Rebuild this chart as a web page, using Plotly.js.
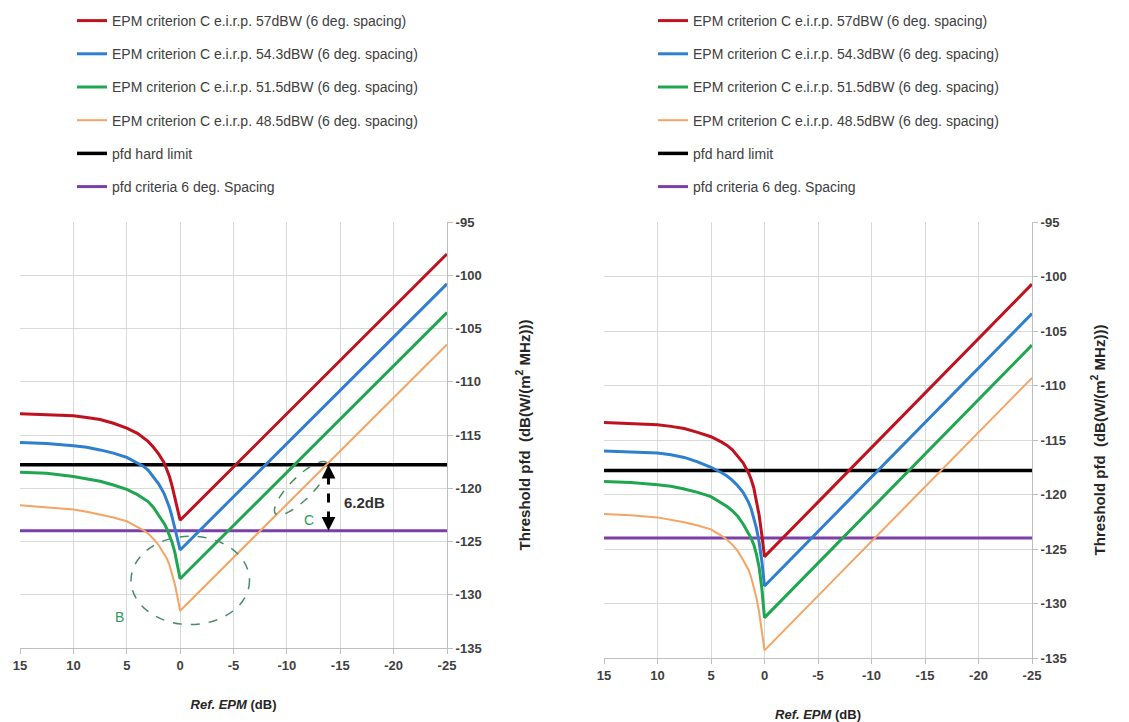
<!DOCTYPE html>
<html>
<head>
<meta charset="utf-8">
<script src="https://cdn.plot.ly/plotly-3.0.1.min.js"></script>
<style>
  html, body { margin: 0; padding: 0; background: #ffffff; }
  #chart { width: 1129px; height: 722px; }
</style>
</head>
<body>
<div id="chart"></div>
<script>
// Reference EPM (dB) sample points, shared by every threshold curve
const epm = [15, 12.5, 10, 8.75, 7.5, 6.25, 5, 4, 3.5, 3, 2.5, 2, 1.5, 1.25, 1, 0.75, 0.5, 0.25, 0, -5, -10, -15, -20, -25];

// Left panel: threshold pfd, dB(W/(m2 MHz))
const leftEirp57   = [-113.0, -113.1, -113.2, -113.35, -113.55, -113.9, -114.35, -114.85, -115.2, -115.6, -116.15, -116.8, -117.6, -118.2, -118.9, -119.8, -120.8, -121.9, -123.0, -118.0, -113.0, -108.0, -103.0, -98.0];
const leftEirp543  = [-115.7, -115.8, -116.0, -116.15, -116.4, -116.7, -117.1, -117.6, -117.9, -118.3, -118.9, -119.6, -120.5, -121.1, -121.8, -122.7, -123.8, -125.0, -125.8, -120.8, -115.8, -110.8, -105.8, -100.8];
const leftEirp515  = [-118.5, -118.6, -118.9, -119.1, -119.35, -119.7, -120.1, -120.6, -120.9, -121.25, -121.8, -122.5, -123.3, -123.8, -124.4, -125.1, -126.0, -127.2, -128.5, -123.5, -118.5, -113.5, -108.5, -103.5];
const leftEirp485  = [-121.6, -121.8, -122.0, -122.2, -122.45, -122.75, -123.1, -123.6, -123.9, -124.25, -124.75, -125.35, -126.1, -126.6, -127.2, -128.0, -129.0, -130.2, -131.5, -126.5, -121.5, -116.5, -111.5, -106.5];

// Right panel: threshold pfd, dB(W/(m2 MHz))
const rightEirp57  = [-113.4, -113.5, -113.6, -113.75, -113.95, -114.3, -114.7, -115.2, -115.5, -115.9, -116.45, -117.1, -118.0, -118.6, -119.4, -120.5, -121.9, -123.7, -125.7, -120.7, -115.7, -110.7, -105.7, -100.7];
const rightEirp543 = [-116.0, -116.1, -116.2, -116.35, -116.6, -117.0, -117.5, -118.0, -118.3, -118.7, -119.2, -119.8, -120.7, -121.3, -122.1, -123.1, -124.4, -126.1, -128.4, -123.4, -118.4, -113.4, -108.4, -103.4];
const rightEirp515 = [-118.8, -118.9, -119.1, -119.25, -119.5, -119.8, -120.2, -120.8, -121.1, -121.5, -122.0, -122.7, -123.5, -124.0, -124.6, -125.5, -126.7, -128.6, -131.3, -126.3, -121.3, -116.3, -111.3, -106.3];
const rightEirp485 = [-121.8, -121.9, -122.1, -122.3, -122.55, -122.85, -123.2, -123.8, -124.15, -124.6, -125.2, -126.0, -126.9, -127.6, -128.5, -129.5, -130.8, -132.4, -134.3, -129.3, -124.3, -119.3, -114.3, -109.3];

// Horizontal reference levels
const limitX = [15, -25];
const pfdHardLimit = [-117.8, -117.8];
const pfdCriteria6deg = [-124.0, -124.0];

const seriesNames = [
  'EPM criterion C e.i.r.p. 57dBW (6 deg. spacing)',
  'EPM criterion C e.i.r.p. 54.3dBW (6 deg. spacing)',
  'EPM criterion C e.i.r.p. 51.5dBW (6 deg. spacing)',
  'EPM criterion C e.i.r.p. 48.5dBW (6 deg. spacing)',
  'pfd hard limit',
  'pfd criteria 6 deg. Spacing'
];
const xTickVals = [15, 10, 5, 0, -5, -10, -15, -20, -25];
const yTickVals = [-95, -100, -105, -110, -115, -120, -125, -130, -135];

const colors = ['#c0121e', '#2f7fcf', '#1fa64f', '#f5a464', '#000000', '#7a3fa8'];
const widths = [3, 3, 3, 2, 3.5, 3];

const W = 1129, H = 722;
const fx = px => px / W;
const fy = py => 1 - py / H;

function panelTraces(curves, xa, ya, legendId, tag) {
  const ys = curves.concat([pfdHardLimit, pfdCriteria6deg]);
  return ys.map((y, i) => ({
    type: 'scatter',
    mode: 'lines',
    x: i < 4 ? epm : limitX,
    y: y,
    name: seriesNames[i],
    xaxis: xa,
    yaxis: ya,
    legend: legendId,
    legendgroup: tag + i,
    line: { color: colors[i], width: widths[i] },
    hoverinfo: 'x+y'
  }));
}

// draw order: limit lines beneath the curves, legend order unchanged
function reorder(tr) {
  return [tr[4], tr[5], tr[0], tr[1], tr[2], tr[3]].map((t, k) => Object.assign(t, { legendrank: [5, 6, 1, 2, 3, 4][k] }));
}

const traces = reorder(panelTraces([leftEirp57, leftEirp543, leftEirp515, leftEirp485], 'x', 'y', 'legend', 'L'))
  .concat(reorder(panelTraces([rightEirp57, rightEirp543, rightEirp515, rightEirp485], 'x2', 'y2', 'legend2', 'R')));

const fontFamily = 'Arial, "Liberation Sans", sans-serif';
const tickFont = { family: fontFamily, size: 13, color: '#404040', weight: 'bold' };
const xTitleFont = { family: fontFamily, size: 13, color: '#262626', weight: 'bold' };
const yTitleFont = { family: fontFamily, size: 15, color: '#262626', weight: 'bold' };

function xAxis(domain, anchor) {
  return {
    domain: domain, anchor: anchor,
    range: [15, -25], tickvals: xTickVals, ticktext: xTickVals.map(String),
    showgrid: true, gridcolor: '#d9d9d9', gridwidth: 1,
    zeroline: false, showline: true, linecolor: '#bfbfbf', linewidth: 1,
    ticks: 'outside', ticklen: 5, tickcolor: '#bfbfbf',
    tickfont: tickFont,
    title: { text: '<i>Ref. EPM</i> (dB)', font: xTitleFont, standoff: 28 },
    automargin: false, fixedrange: true
  };
}
function yAxis(domain, anchor, standoff) {
  return {
    domain: domain, anchor: anchor, side: 'right',
    range: [-135, -95], tickvals: yTickVals, ticktext: yTickVals.map(String),
    showgrid: true, gridcolor: '#d9d9d9', gridwidth: 1,
    zeroline: false, showline: true, linecolor: '#bfbfbf', linewidth: 1,
    ticks: 'outside', ticklen: 5, tickcolor: '#bfbfbf',
    tickfont: tickFont,
    title: { text: 'Threshold pfd  (dB(W/(m<sup>2</sup> MHz)))', font: yTitleFont, standoff: standoff },
    automargin: false, fixedrange: true
  };
}

const legendBase = {
  yanchor: 'top', xanchor: 'left',
  bgcolor: 'rgba(0,0,0,0)', borderwidth: 0,
  font: { family: fontFamily, size: 14, color: '#404040' },
  tracegroupgap: 12, traceorder: 'grouped', itemclick: false, itemdoubleclick: false
};

// Tilted ellipse "C" drawn along the slope-1 lines of the left panel
const cCenter = [-11.35, -120.0], cSemiMajor = 3.4, cSemiMinor = 1.05;
function tiltedEllipsePath(c, a, b) {
  const u = [-Math.SQRT1_2, Math.SQRT1_2], v = [Math.SQRT1_2, Math.SQRT1_2];
  let d = '';
  for (let k = 0; k <= 72; k++) {
    const t = 2 * Math.PI * k / 72;
    const px = c[0] + a * Math.cos(t) * u[0] + b * Math.sin(t) * v[0];
    const py = c[1] + a * Math.cos(t) * u[1] + b * Math.sin(t) * v[1];
    d += (k === 0 ? 'M' : 'L') + px.toFixed(3) + ',' + py.toFixed(3);
  }
  return d + 'Z';
}
const gapX = -13.9;
const annotGreen = '#2e9a5c';
const dashGreen = '#4a8a68';

const layout = {
  width: W, height: H,
  margin: { l: 0, r: 0, t: 0, b: 0 },
  paper_bgcolor: '#ffffff', plot_bgcolor: '#ffffff',
  showlegend: true,
  xaxis: xAxis([fx(20), fx(447)], 'y'),
  yaxis: yAxis([fy(648), fy(222)], 'x', 38),
  xaxis2: xAxis([fx(604), fx(1032)], 'y2'),
  yaxis2: yAxis([fy(658), fy(222)], 'x2', 28),
  legend: Object.assign({ x: fx(72), y: fy(5) }, legendBase),
  legend2: Object.assign({ x: fx(653), y: fy(5) }, legendBase),
  shapes: [
    { type: 'circle', xref: 'x', yref: 'y', x0: 4.6, x1: -6.5, y0: -132.8, y1: -124.5,
      line: { color: dashGreen, width: 1.5, dash: 'dash' }, layer: 'above' },
    { type: 'path', xref: 'x', yref: 'y', path: tiltedEllipsePath(cCenter, cSemiMajor, cSemiMinor),
      line: { color: dashGreen, width: 1.5, dash: 'dash' }, layer: 'above' },
    { type: 'line', xref: 'x', yref: 'y', x0: gapX, x1: gapX, y0: pfdHardLimit[0] - 1.0, y1: pfdCriteria6deg[0] + 0.9,
      line: { color: '#000000', width: 3, dash: 'dash' }, layer: 'above' }
  ],
  annotations: [
    { xref: 'x', yref: 'y', x: gapX, y: pfdHardLimit[0], ax: 0, ay: 14, text: '', showarrow: true,
      arrowhead: 2, arrowsize: 1.1, arrowwidth: 2.5, arrowcolor: '#000000', standoff: 0 },
    { xref: 'x', yref: 'y', x: gapX, y: pfdCriteria6deg[0], ax: 0, ay: -14, text: '', showarrow: true,
      arrowhead: 2, arrowsize: 1.1, arrowwidth: 2.5, arrowcolor: '#000000', standoff: 0 },
    { xref: 'x', yref: 'y', x: -17.3, y: -121.3, text: '6.2dB', showarrow: false,
      font: { family: fontFamily, size: 15, color: '#333333', weight: 'bold' } },
    { xref: 'x', yref: 'y', x: 5.7, y: -132.1, text: 'B', showarrow: false,
      font: { family: fontFamily, size: 14, color: annotGreen } },
    { xref: 'x', yref: 'y', x: -12.1, y: -123.0, text: 'C', showarrow: false,
      font: { family: fontFamily, size: 14, color: annotGreen } }
  ]
};

Plotly.newPlot('chart', traces, layout, { staticPlot: true, displayModeBar: false });
</script>
</body>
</html>
